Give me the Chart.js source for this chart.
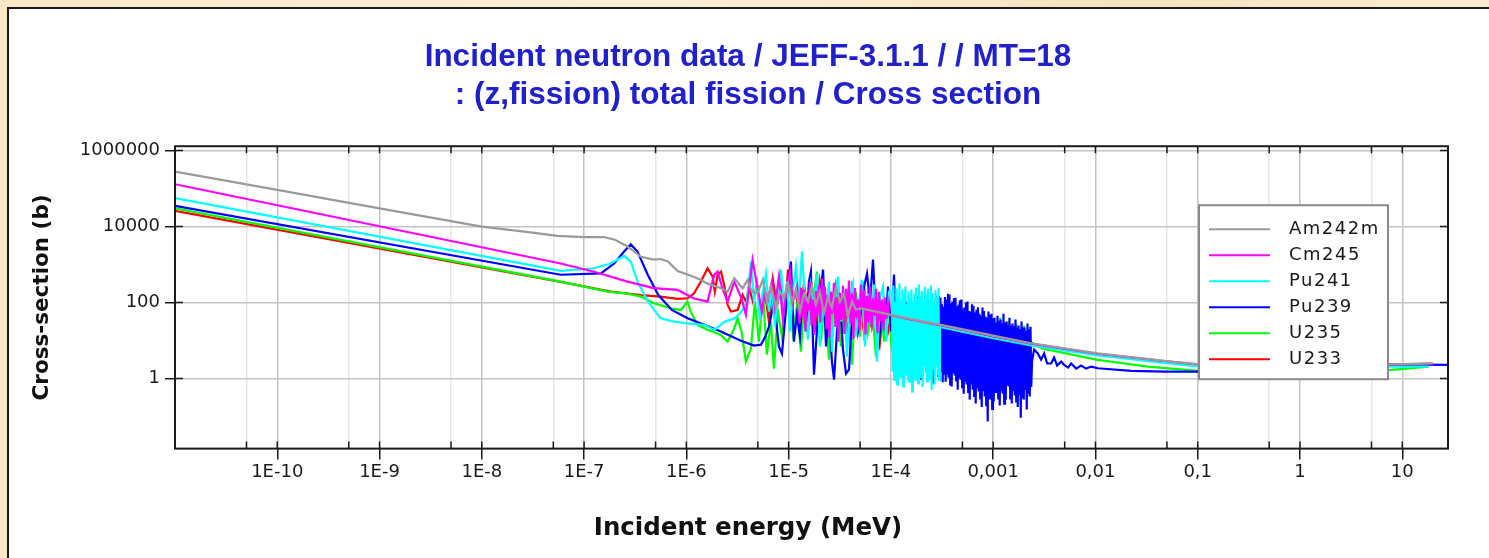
<!DOCTYPE html>
<html lang="en">
<head>
  <meta charset="UTF-8">
  <title>JEFF-3.1.1 MT=18 fission cross sections</title>
  <script src="https://cdn.jsdelivr.net/npm/chart.js"></script>
  <style>
    html, body {margin: 0; width: 1489px; height: 558px; overflow: hidden;}
    body {background: linear-gradient(100deg, #f7e7c6 0%, #fbefd8 40%, #f6e4c0 70%, #faecd2 100%); position: relative;}
    .panel {position: absolute; left: 7px; top: 7px; width: 1500px; height: 570px; background: #fff; border-left: 2px solid #1b1b1b; border-top: 2px solid #1b1b1b;}
    #xsChart {position: absolute; left: 0; top: 0;}
  </style>
</head>
<body>

<div class="panel"></div>
<canvas id="xsChart" width="1489" height="558"></canvas>

<script>
  // [energy (MeV), cross-section (b)] per evaluated isotope
  const am242m = [
    [1e-11, 2.8e5], [1e-10, 9.2e4], [1e-9, 3.0e4], [1e-8, 1.0e4], [3e-8, 7000], [5.5e-8, 5700], [1e-7, 5300],
    [1.56e-7, 5300], [2.0e-7, 4500], [2.66e-7, 3000], [3.6e-7, 1600], [4.8e-7, 1350], [5.6e-7, 1400], [6.6e-7, 1200],
    [8.2e-7, 680], [1.03e-6, 550], [1.38e-6, 400], [1.6e-6, 320], [2.18e-6, 238], [2.53e-6, 195], [2.94e-6, 436],
    [3.55e-6, 238], [3.97e-6, 396], [4.37e-6, 195], [4.97e-6, 176], [5.6e-6, 403], [6.13e-6, 106], [6.71e-6, 264],
    [7.51e-6, 78.5], [8.22e-6, 195], [9.0e-6, 135], [9.84e-6, 316], [1.077e-5, 106], [1.179e-5, 220], [1.29e-5, 58],
    [1.41e-5, 172], [1.545e-5, 106], [1.69e-5, 280], [1.85e-5, 88], [2.02e-5, 195], [2.21e-5, 51], [2.42e-5, 135],
    [2.65e-5, 74], [2.9e-5, 248], [3.18e-5, 106], [3.47e-5, 172], [3.8e-5, 45], [4.16e-5, 106], [4.55e-5, 65],
    [5.1e-5, 70], [1.46e-4, 38.6], [3.1e-4, 26], [1e-3, 13.5], [2.35e-3, 8.5], [1.05e-2, 4.6], [0.047, 2.93],
    [0.1, 2.38], [0.3, 2.25], [1, 2.2], [3, 2.3], [7.8, 2.38], [20, 2.53]
  ];
  const cm245 = [
    [1e-11, 1.3e5], [5.9e-8, 1070], [1.25e-7, 650], [2.66e-7, 355], [4.8e-7, 240], [8.2e-7, 215], [1.19e-6, 128],
    [1.61e-6, 106], [1.87e-6, 535], [2.02e-6, 655], [2.25e-6, 238], [2.53e-6, 106], [2.94e-6, 357], [3.46e-6, 130],
    [3.82e-6, 48], [4.44e-6, 1320], [4.97e-6, 238], [5.48e-6, 58], [5.86e-6, 195], [6.27e-6, 120], [6.87e-6, 360],
    [7.34e-6, 78], [8.04e-6, 480], [8.79e-6, 35], [9.41e-6, 172], [1.03e-5, 650], [1.10e-5, 106], [1.206e-5, 264],
    [1.2795e-5, 28],
    [1.3195e-5, 250], [1.3648e-5, 40], [1.4117e-5, 220], [1.4602e-5, 18], [1.5104e-5, 150], [1.5623e-5, 60],
    [1.616e-5, 360], [1.6715e-5, 25], [1.7289e-5, 120], [1.7883e-5, 14], [1.8497e-5, 200], [1.9133e-5, 45],
    [1.979e-5, 300], [2.047e-5, 30], [2.1173e-5, 420], [2.1901e-5, 70], [2.2653e-5, 260], [2.3431e-5, 20],
    [2.4236e-5, 110], [2.5069e-5, 12], [2.593e-5, 195], [2.6821e-5, 50], [2.7742e-5, 330], [2.8695e-5, 23],
    [2.9681e-5, 140], [3.0701e-5, 9.4], [3.1756e-5, 180], [3.2847e-5, 35], [3.3975e-5, 280], [3.5142e-5, 15],
    [3.635e-5, 230], [3.7598e-5, 55], [3.889e-5, 380], [4.0226e-5, 28], [4.1608e-5, 170], [4.3038e-5, 11],
    [4.4516e-5, 240], [4.6046e-5, 40], [4.7627e-5, 120], [4.9263e-5, 18], [5.0956e-5, 300], [5.2706e-5, 65],
    [5.4517e-5, 210], [5.639e-5, 14.4], [5.8327e-5, 150], [6.0331e-5, 30], [6.2404e-5, 260], [6.4547e-5, 22],
    [6.6765e-5, 130], [6.9058e-5, 45], [7.1431e-5, 232], [7.3884e-5, 16], [7.6423e-5, 190], [7.9048e-5, 32],
    [8.1764e-5, 120], [8.4573e-5, 20], [8.7478e-5, 135], [9.0483e-5, 38], [9.3592e-5, 90], [9.58e-5, 48],
    [1.46e-4, 37], [3.1e-4, 25], [1e-3, 13], [2.35e-3, 8.3], [1.05e-2, 4.5], [0.047, 2.9], [0.1, 2.36], [1, 2.1],
    [7.8, 2.35], [20, 2.5]
  ];
  const pu241 = [
    [1e-11, 5.6e4], [5.9e-8, 680], [1.25e-7, 800], [1.82e-7, 1070], [2.46e-7, 1700], [2.86e-7, 1200], [3.33e-7, 355],
    [4.2e-7, 107], [5.6e-7, 38.6], [7.6e-7, 31.6], [1.03e-6, 28.5], [1.5e-6, 25.9], [1.88e-6, 19.1], [2.37e-6, 31.6],
    [2.98e-6, 38.6], [3.46e-6, 58], [3.9e-6, 107], [4.28e-6, 1200], [4.58e-6, 106], [4.90e-6, 316], [5.24e-6, 36],
    [5.6e-6, 195], [6.0e-6, 580], [6.42e-6, 58], [6.87e-6, 264], [7.34e-6, 23], [7.86e-6, 144], [8.41e-6, 735],
    [9.0e-6, 78.5], [9.63e-6, 357], [1.03e-5, 17.3], [1.10e-5, 195], [1.179e-5, 885], [1.26e-5, 106], [1.35e-5, 2200],
    [1.44e-5, 144], [1.545e-5, 10.6], [1.65e-5, 264], [1.77e-5, 78.5], [1.89e-5, 580], [2.02e-5, 7.0], [2.17e-5, 195],
    [2.32e-5, 58], [2.48e-5, 357], [2.65e-5, 5.1], [2.84e-5, 106], [3.04e-5, 483], [3.25e-5, 32], [3.47e-5, 195],
    [3.72e-5, 3.8], [3.98e-5, 144], [4.26e-5, 316], [4.55e-5, 12.7], [4.87e-5, 106], [5.21e-5, 400], [5.58e-5, 7.0],
    [5.97e-5, 172], [6.39e-5, 36], [6.83e-5, 298], [7.31e-5, 2.8], [7.82e-5, 135], [8.37e-5, 264], [8.96e-5, 9.4],
    [9.58e-5, 195],
    [1.0228e-4, 195], [1.0402e-4, 1.53], [1.0579e-4, 280], [1.0759e-4, 0.94], [1.0943e-4, 106], [1.1129e-4, 2.5],
    [1.1319e-4, 234], [1.1512e-4, 0.70], [1.1708e-4, 144], [1.1907e-4, 2.07], [1.211e-4, 316], [1.2316e-4, 1.13],
    [1.2526e-4, 120], [1.2739e-4, 2.8], [1.2956e-4, 220], [1.3177e-4, 0.62], [1.3401e-4, 172], [1.363e-4, 1.73],
    [1.3862e-4, 264], [1.4098e-4, 1.27], [1.4338e-4, 89], [1.4582e-4, 3.16], [1.4831e-4, 195], [1.5083e-4, 0.83],
    [1.534e-4, 135], [1.5602e-4, 2.33], [1.5867e-4, 220], [1.6138e-4, 0.455], [1.6413e-4, 106], [1.6692e-4, 1.53],
    [1.6976e-4, 172], [1.7266e-4, 0.94], [1.756e-4, 250], [1.7859e-4, 1.9], [1.8163e-4, 130], [1.8473e-4, 0.75],
    [1.8787e-4, 300], [1.9107e-4, 2.6], [1.9433e-4, 150], [1.9764e-4, 1.1], [2.01e-4, 200], [2.0443e-4, 0.6],
    [2.0791e-4, 110], [2.1145e-4, 2.2], [2.1505e-4, 260], [2.1872e-4, 1.4], [2.2244e-4, 160], [2.2623e-4, 0.85],
    [2.3009e-4, 230], [2.3401e-4, 3.0], [2.3799e-4, 125], [2.4205e-4, 1.0], [2.4617e-4, 280], [2.5036e-4, 0.5],
    [2.5463e-4, 180], [2.5897e-4, 1.8], [2.6338e-4, 100], [2.6786e-4, 0.7], [2.7243e-4, 210], [2.7707e-4, 2.4],
    [2.8179e-4, 140], [2.8659e-4, 1.2], [2.9147e-4, 240], [2.9643e-4, 0.9], [3.0148e-4, 23],
    [1e-3, 11.5], [2.35e-3, 7.5], [1.05e-2, 4.1], [0.047, 2.6], [0.1, 2.1], [1, 1.9], [7.8, 2.07], [18, 2.07]
  ];
  const pu239 = [
    [1e-11, 3.5e4], [5.9e-8, 540], [1.46e-7, 590], [1.97e-7, 1070], [2.46e-7, 2200], [2.86e-7, 3400], [3.33e-7, 2200],
    [4.2e-7, 535], [5.3e-7, 160], [7.2e-7, 64], [1.03e-6, 38.6], [1.5e-6, 25.9], [2.17e-6, 17.3], [3.46e-6, 9.8],
    [4.6e-6, 7.4], [5.36e-6, 7.8], [5.86e-6, 12], [6.42e-6, 23], [7.02e-6, 78.5], [7.51e-6, 36], [8.04e-6, 7.0],
    [8.6e-6, 4.5], [9.2e-6, 32], [9.84e-6, 264], [1.053e-5, 1200], [1.127e-5, 9.4], [1.206e-5, 48], [1.29e-5, 12.7],
    [1.38e-5, 195], [1.476e-5, 17.3], [1.58e-5, 357], [1.65e-5, 655], [1.77e-5, 1.27], [1.89e-5, 17.3], [2.02e-5, 127],
    [2.17e-5, 735], [2.32e-5, 7.0], [2.48e-5, 58], [2.65e-5, 2.8], [2.78e-5, 0.94], [2.97e-5, 17.3], [3.18e-5, 106],
    [3.4e-5, 5.8], [3.64e-5, 1.35], [3.89e-5, 1.73], [4.16e-5, 32], [4.45e-5, 106], [4.76e-5, 17.3], [5.1e-5, 58],
    [5.46e-5, 264], [5.84e-5, 580], [6.25e-5, 106], [6.68e-5, 1350], [7.15e-5, 32], [7.65e-5, 9.4], [8.18e-5, 106],
    [8.75e-5, 17.3], [9.37e-5, 264], [1.002e-4, 17.3], [1.072e-4, 545], [1.147e-4, 3.36], [1.227e-4, 58],
    [1.313e-4, 1.35], [1.405e-4, 106], [1.503e-4, 0.83], [1.608e-4, 78.5], [1.72e-4, 2.07], [1.842e-4, 144],
    [1.97e-4, 0.94], [2.108e-4, 51], [2.255e-4, 1.53], [2.413e-4, 106], [2.582e-4, 0.74], [2.763e-4, 135],
    [2.851e-4, 106], [2.8996e-4, 1.2], [2.949e-4, 150], [2.9992e-4, 0.94], [3.0503e-4, 135], [3.1023e-4, 1.6],
    [3.1551e-4, 90], [3.2089e-4, 0.8], [3.2635e-4, 78], [3.3191e-4, 1.35], [3.3757e-4, 140], [3.4332e-4, 0.83],
    [3.4917e-4, 120], [3.5512e-4, 1.4], [3.6117e-4, 170], [3.6732e-4, 1.06], [3.7358e-4, 162], [3.7994e-4, 0.7],
    [3.8642e-4, 95], [3.93e-4, 0.62], [3.997e-4, 106], [4.0651e-4, 1.5], [4.1343e-4, 130], [4.2048e-4, 1.2],
    [4.2764e-4, 135], [4.3493e-4, 0.9], [4.4234e-4, 80], [4.4987e-4, 0.51], [4.5754e-4, 89], [4.6533e-4, 1.1],
    [4.7326e-4, 115], [4.8133e-4, 0.94], [4.8953e-4, 120], [4.9787e-4, 0.6], [5.0635e-4, 70], [5.1498e-4, 0.40],
    [5.2375e-4, 74], [5.3268e-4, 0.9], [5.4175e-4, 100], [5.5098e-4, 0.70], [5.6037e-4, 106], [5.6992e-4, 0.45],
    [5.7963e-4, 60], [5.895e-4, 0.28], [5.9955e-4, 58], [6.0976e-4, 0.75], [6.2015e-4, 90], [6.3072e-4, 0.51],
    [6.4147e-4, 83], [6.524e-4, 0.35], [6.6351e-4, 55], [6.7482e-4, 0.22], [6.8632e-4, 65], [6.9801e-4, 0.6],
    [7.099e-4, 75], [7.22e-4, 0.455], [7.343e-4, 51], [7.4681e-4, 0.3], [7.5954e-4, 45], [7.7248e-4, 0.18],
    [7.8564e-4, 74], [7.9903e-4, 0.5], [8.1264e-4, 60], [8.2649e-4, 0.34], [8.4057e-4, 43], [8.5489e-4, 0.2],
    [8.6946e-4, 40], [8.8427e-4, 0.074], [8.9934e-4, 58], [9.1467e-4, 0.3], [9.3025e-4, 48], [9.461e-4, 0.40],
    [9.6222e-4, 51], [9.7862e-4, 0.16], [9.9529e-4, 38], [1.0125e-3, 0.25], [1.0297e-3, 40], [1.0473e-3, 0.45],
    [1.0651e-3, 30], [1.0833e-3, 0.58], [1.1017e-3, 45], [1.1205e-3, 0.3], [1.1396e-3, 33], [1.159e-3, 0.195],
    [1.1788e-3, 36], [1.1989e-3, 0.5], [1.2193e-3, 28], [1.2401e-3, 0.40], [1.2612e-3, 51], [1.2827e-3, 0.22],
    [1.3045e-3, 30], [1.3268e-3, 0.28], [1.3494e-3, 32], [1.3724e-3, 0.7], [1.3958e-3, 26], [1.4195e-3, 0.62],
    [1.4437e-3, 40], [1.4683e-3, 0.3], [1.4934e-3, 25], [1.5188e-3, 0.22], [1.5447e-3, 28], [1.571e-3, 0.5],
    [1.5978e-3, 24], [1.625e-3, 0.36], [1.6527e-3, 36], [1.6809e-3, 0.25], [1.7095e-3, 22], [1.7387e-3, 0.18],
    [1.7683e-3, 24.8], [1.7985e-3, 0.4], [1.8291e-3, 20], [1.8603e-3, 0.094], [1.892e-3, 32], [1.9242e-3, 0.3],
    [1.957e-3, 22], [1.9904e-3, 0.28], [2.0243e-3, 22], [2.0588e-3, 0.5], [2.0939e-3, 18], [2.1296e-3, 0.153],
    [2.1659e-3, 28], [2.2028e-3, 0.4], [2.2404e-3, 20], [2.2786e-3, 0.34], [2.3174e-3, 23], [2.3569e-3, 0.6],
    [2.3971e-3, 2.8],
    [2.51e-3, 5.8], [2.73e-3, 4.6], [2.94e-3, 3.16], [3.15e-3, 4.6], [3.37e-3, 2.5], [3.69e-3, 2.5], [3.94e-3, 3.6],
    [4.22e-3, 2.2], [4.62e-3, 2.8], [4.94e-3, 2.3], [5.41e-3, 1.95], [5.78e-3, 2.5], [6.48e-3, 1.83], [7.24e-3, 2.2],
    [8.11e-3, 1.83], [9.08e-3, 2.07], [1.055e-2, 1.87], [2.24e-2, 1.6], [4.7e-2, 1.53], [0.1, 1.53], [1, 1.6],
    [7.8, 2.38], [28, 2.29]
  ];
  const u235 = [
    [1e-11, 3.0e4], [5.9e-8, 357], [1.7e-7, 195], [2.66e-7, 172], [3.6e-7, 144], [4.8e-7, 96], [7.2e-7, 70],
    [8.83e-7, 64], [1.027e-6, 106], [1.1e-6, 58], [1.287e-6, 26], [1.61e-6, 19.2], [2.17e-6, 14.1], [2.53e-6, 9.4],
    [2.94e-6, 21], [3.17e-6, 38.6], [3.46e-6, 17.3], [3.82e-6, 2.8], [4.28e-6, 6.3], [4.68e-6, 106], [5.12e-6, 9.4],
    [5.6e-6, 195], [6.13e-6, 4.3], [6.71e-6, 32], [7.18e-6, 1.83], [7.86e-6, 58], [8.6e-6, 12.7], [9.41e-6, 106],
    [1.03e-5, 545], [1.10e-5, 17.3], [1.206e-5, 78.5], [1.32e-5, 5.1], [1.44e-5, 195], [1.58e-5, 23], [1.73e-5, 106],
    [1.89e-5, 655], [2.07e-5, 9.4], [2.27e-5, 144], [2.48e-5, 3.16], [2.71e-5, 58], [2.97e-5, 264], [3.25e-5, 7.0],
    [3.56e-5, 106], [3.89e-5, 32], [4.16e-5, 2.33], [4.55e-5, 195], [4.99e-5, 12.7], [5.46e-5, 357], [5.97e-5, 17.3],
    [6.53e-5, 78.5], [7.15e-5, 3.8], [7.82e-5, 144], [8.56e-5, 9.4], [9.37e-5, 106], [1.025e-4, 5.1], [1.122e-4, 58],
    [1.227e-4, 2.07], [1.343e-4, 106], [1.47e-4, 7.0], [1.608e-4, 43], [1.76e-4, 1.53], [1.926e-4, 78.5],
    [2.108e-4, 3.8], [2.307e-4, 58], [2.525e-4, 1.73], [2.763e-4, 94], [3.024e-4, 2.8], [3.308e-4, 74],
    [3.62e-4, 1.13], [3.962e-4, 51], [4.335e-4, 5.1], [4.745e-4, 65], [5.192e-4, 0.70], [5.682e-4, 40],
    [6.217e-4, 2.8], [6.803e-4, 51], [7.445e-4, 0.94], [8.147e-4, 43], [8.915e-4, 2.07], [9.755e-4, 36],
    [1.068e-3, 1.35], [1.168e-3, 40], [1.279e-3, 2.8], [1.399e-3, 32], [1.531e-3, 1.06], [1.675e-3, 28],
    [1.833e-3, 2.5], [2.006e-3, 24.8], [2.195e-3, 1.53], [2.297e-3, 9.4], [2.94e-3, 6.3], [1.05e-2, 3.1],
    [3.26e-2, 2.07], [0.1, 1.59], [1, 1.35], [7.8, 1.69], [12.3, 1.87], [18, 2.07]
  ];
  const u233 = [
    [1e-11, 2.6e4], [5.9e-8, 350], [1.82e-7, 195], [3.6e-7, 158], [5.6e-7, 144], [8.2e-7, 125], [1.03e-6, 130],
    [1.19e-6, 176], [1.386e-6, 357], [1.612e-6, 800], [1.805e-6, 483], [1.9e-6, 195], [2.02e-6, 535], [2.18e-6, 655],
    [2.343e-6, 290], [2.53e-6, 87], [2.725e-6, 58], [3.17e-6, 64], [3.55e-6, 159], [3.82e-6, 106], [4.12e-6, 238],
    [4.47e-6, 106], [4.90e-6, 300], [5.36e-6, 58], [5.86e-6, 195], [6.42e-6, 32], [7.02e-6, 400], [7.68e-6, 78.5],
    [8.41e-6, 264], [9.2e-6, 43], [9.84e-6, 735], [1.077e-5, 106], [1.179e-5, 195], [1.29e-5, 23], [1.41e-5, 316],
    [1.545e-5, 58], [1.69e-5, 220], [1.85e-5, 17.3], [2.02e-5, 357], [2.21e-5, 78.5], [2.42e-5, 172], [2.65e-5, 19.5],
    [2.9e-5, 264], [3.18e-5, 51], [3.47e-5, 135], [3.8e-5, 12.7], [4.16e-5, 220], [4.55e-5, 36], [4.99e-5, 106],
    [5.46e-5, 15.3], [5.97e-5, 144], [6.53e-5, 23], [7.15e-5, 78.5], [7.82e-5, 9.4], [8.56e-5, 106], [9.37e-5, 17.3],
    [1.025e-4, 58], [1.122e-4, 7.0], [1.227e-4, 78.5], [1.343e-4, 12.7], [1.47e-4, 43], [1.608e-4, 5.1],
    [1.76e-4, 58], [1.926e-4, 9.4], [2.108e-4, 36], [2.307e-4, 3.8], [2.525e-4, 43], [2.763e-4, 7.0],
    [3.024e-4, 32], [3.308e-4, 4.6], [3.62e-4, 28], [3.962e-4, 9.4], [4.335e-4, 32], [4.745e-4, 5.1],
    [5.192e-4, 23], [5.682e-4, 7.0], [5.94e-4, 17.3], [1e-3, 12.5], [2.35e-3, 8.0], [1.05e-2, 4.3],
    [0.047, 2.7], [0.1, 2.2], [1, 1.9], [7.8, 2.2], [20, 2.4]
  ];

  const isotopes = ['Am242m', 'Cm245', 'Pu241', 'Pu239', 'U235', 'U233'];
  const seriesData = [am242m, cm245, pu241, pu239, u235, u233];

  // axis ticks
  const energyDecades = [1e-10, 1e-9, 1e-8, 1e-7, 1e-6, 1e-5, 1e-4, 1e-3, 1e-2, 0.1, 1, 10];
  const energyTickLabels = ['1E-10', '1E-9', '1E-8', '1E-7', '1E-6', '1E-5', '1E-4', '0,001', '0,01', '0,1', '1', '10'];
  const energyMinor = [5e-11, 5e-10, 5e-9, 5e-8, 5e-7, 5e-6, 5e-5, 5e-4, 5e-3, 0.05, 0.5, 5];
  const xsTicks = [1, 100, 10000, 1000000];
  const xsTickLabels = ['1', '100', '10000', '1000000'];

  const titleLines = ['Incident neutron data / JEFF-3.1.1 / / MT=18', ': (z,fission) total fission / Cross section'];

  const lineColors = ['#9a9a9a', '#ff00ff', '#00ffff', '#0000ff', '#00ff00', '#ff0000'];

  Chart.defaults.font.family = "'DejaVu Sans', sans-serif";
  Chart.defaults.color = '#1a1a1a';

  const isDecade = v => energyDecades.includes(v);

  // box around the plot plus short inward tick marks on all sides
  const frame = {
    id: 'frame',
    afterDatasetsDraw(chart) {
      const {ctx, chartArea: a, scales: {x, y}} = chart;
      ctx.save();
      ctx.strokeStyle = '#1a1a1a';
      ctx.lineWidth = 1.5;
      ctx.beginPath();
      x.ticks.forEach(t => {
        const px = x.getPixelForValue(t.value);
        ctx.moveTo(px, a.bottom); ctx.lineTo(px, a.bottom - 7);
        ctx.moveTo(px, a.top); ctx.lineTo(px, a.top + 7);
      });
      y.ticks.forEach(t => {
        const py = y.getPixelForValue(t.value);
        ctx.moveTo(a.left, py); ctx.lineTo(a.left + 8, py);
        ctx.moveTo(a.right, py); ctx.lineTo(a.right - 8, py);
      });
      ctx.stroke();
      ctx.lineWidth = 2;
      ctx.strokeRect(a.left, a.top, a.width, a.height);
      ctx.restore();
    }
  };

  const legendBox = {
    id: 'legendBox',
    afterDraw(chart) {
      const {ctx, chartArea: a} = chart;
      const left = a.right - 249, top = a.top + 59, w = 189, h = 174;
      ctx.save();
      ctx.fillStyle = '#fff';
      ctx.fillRect(left, top, w, h);
      ctx.strokeStyle = '#8a8a8a';
      ctx.lineWidth = 2;
      ctx.strokeRect(left, top, w, h);
      ctx.font = "18px 'DejaVu Sans'";
      ctx.letterSpacing = '1.5px';
      ctx.textBaseline = 'middle';
      chart.data.datasets.forEach((ds, i) => {
        const rowY = top + 24 + i * 26;
        ctx.strokeStyle = ds.borderColor;
        ctx.lineWidth = 2;
        ctx.beginPath();
        ctx.moveTo(left + 10, rowY);
        ctx.lineTo(left + 71, rowY);
        ctx.stroke();
        ctx.fillStyle = '#1a1a1a';
        ctx.fillText(ds.label, left + 90, rowY);
      });
      ctx.restore();
    }
  };

  new Chart(document.getElementById('xsChart').getContext('2d'), {
    type: 'line',
    data: {
      datasets: isotopes.map((name, i) => ({
        label: name,
        data: seriesData[i],
        borderColor: lineColors[i],
        borderWidth: 2.2,
        pointRadius: 0,
        fill: false,
        tension: 0
      }))
    },
    options: {
      responsive: false,
      animation: false,
      events: [],
      layout: { padding: { left: 7, right: 0, top: 0, bottom: 0 } },
      plugins: {
        legend: { display: false },
        tooltip: { enabled: false },
        title: {
          display: true,
          text: titleLines,
          color: '#2020cc',
          font: { family: "'Liberation Sans', Arial, sans-serif", size: 31.5, weight: 'bold', lineHeight: 1.21 },
          padding: { top: 38, bottom: 32 }
        },
        subtitle: {
          display: true,
          position: 'bottom',
          text: 'Incident energy (MeV)',
          color: '#111',
          font: { size: 24.5, weight: 'bold', lineHeight: 1.2 },
          padding: { top: 4, bottom: 15 }
        }
      },
      scales: {
        x: {
          type: 'logarithmic',
          min: 1e-11,
          max: 28,
          afterBuildTicks: axis => {
            axis.ticks = energyDecades.concat(energyMinor).sort((a, b) => a - b).map(v => ({ value: v }));
          },
          afterFit: axis => { axis.height = 61; },
          ticks: {
            autoSkip: false,
            maxRotation: 0,
            padding: 2,
            font: { size: 18 },
            callback: v => isDecade(v) ? energyTickLabels[energyDecades.indexOf(v)] : ''
          },
          grid: {
            color: c => c.tick && isDecade(c.tick.value) ? '#c4c4c4' : '#e6e6e6',
            lineWidth: 1.5,
            tickLength: 11,
            tickWidth: 1.5,
            tickColor: c => c.tick && isDecade(c.tick.value) ? '#1a1a1a' : 'rgba(0,0,0,0)'
          },
          border: { display: false }
        },
        y: {
          type: 'logarithmic',
          min: 0.0144,
          max: 1.3e6,
          afterBuildTicks: axis => { axis.ticks = xsTicks.map(v => ({ value: v })); },
          afterFit: axis => { axis.width = 168; },
          ticks: {
            autoSkip: false,
            padding: 5,
            font: { size: 18 },
            callback: v => xsTicks.includes(v) ? xsTickLabels[xsTicks.indexOf(v)] : ''
          },
          grid: { color: '#c4c4c4', lineWidth: 1.5, tickLength: 10, tickWidth: 1.5, tickColor: '#1a1a1a' },
          border: { display: false },
          title: {
            display: true,
            text: 'Cross-section (b)',
            color: '#111',
            font: { size: 21.5, weight: 'bold', lineHeight: 1.2 },
            padding: { top: 23, bottom: 0 }
          }
        },
        // keeps the plot clear of the right edge
        yRight: {
          position: 'right',
          display: true,
          afterFit: axis => { axis.width = 41; },
          ticks: { display: false },
          grid: { display: false, drawTicks: false },
          border: { display: false }
        }
      }
    },
    plugins: [frame, legendBox]
  });
</script>

</body>
</html>
